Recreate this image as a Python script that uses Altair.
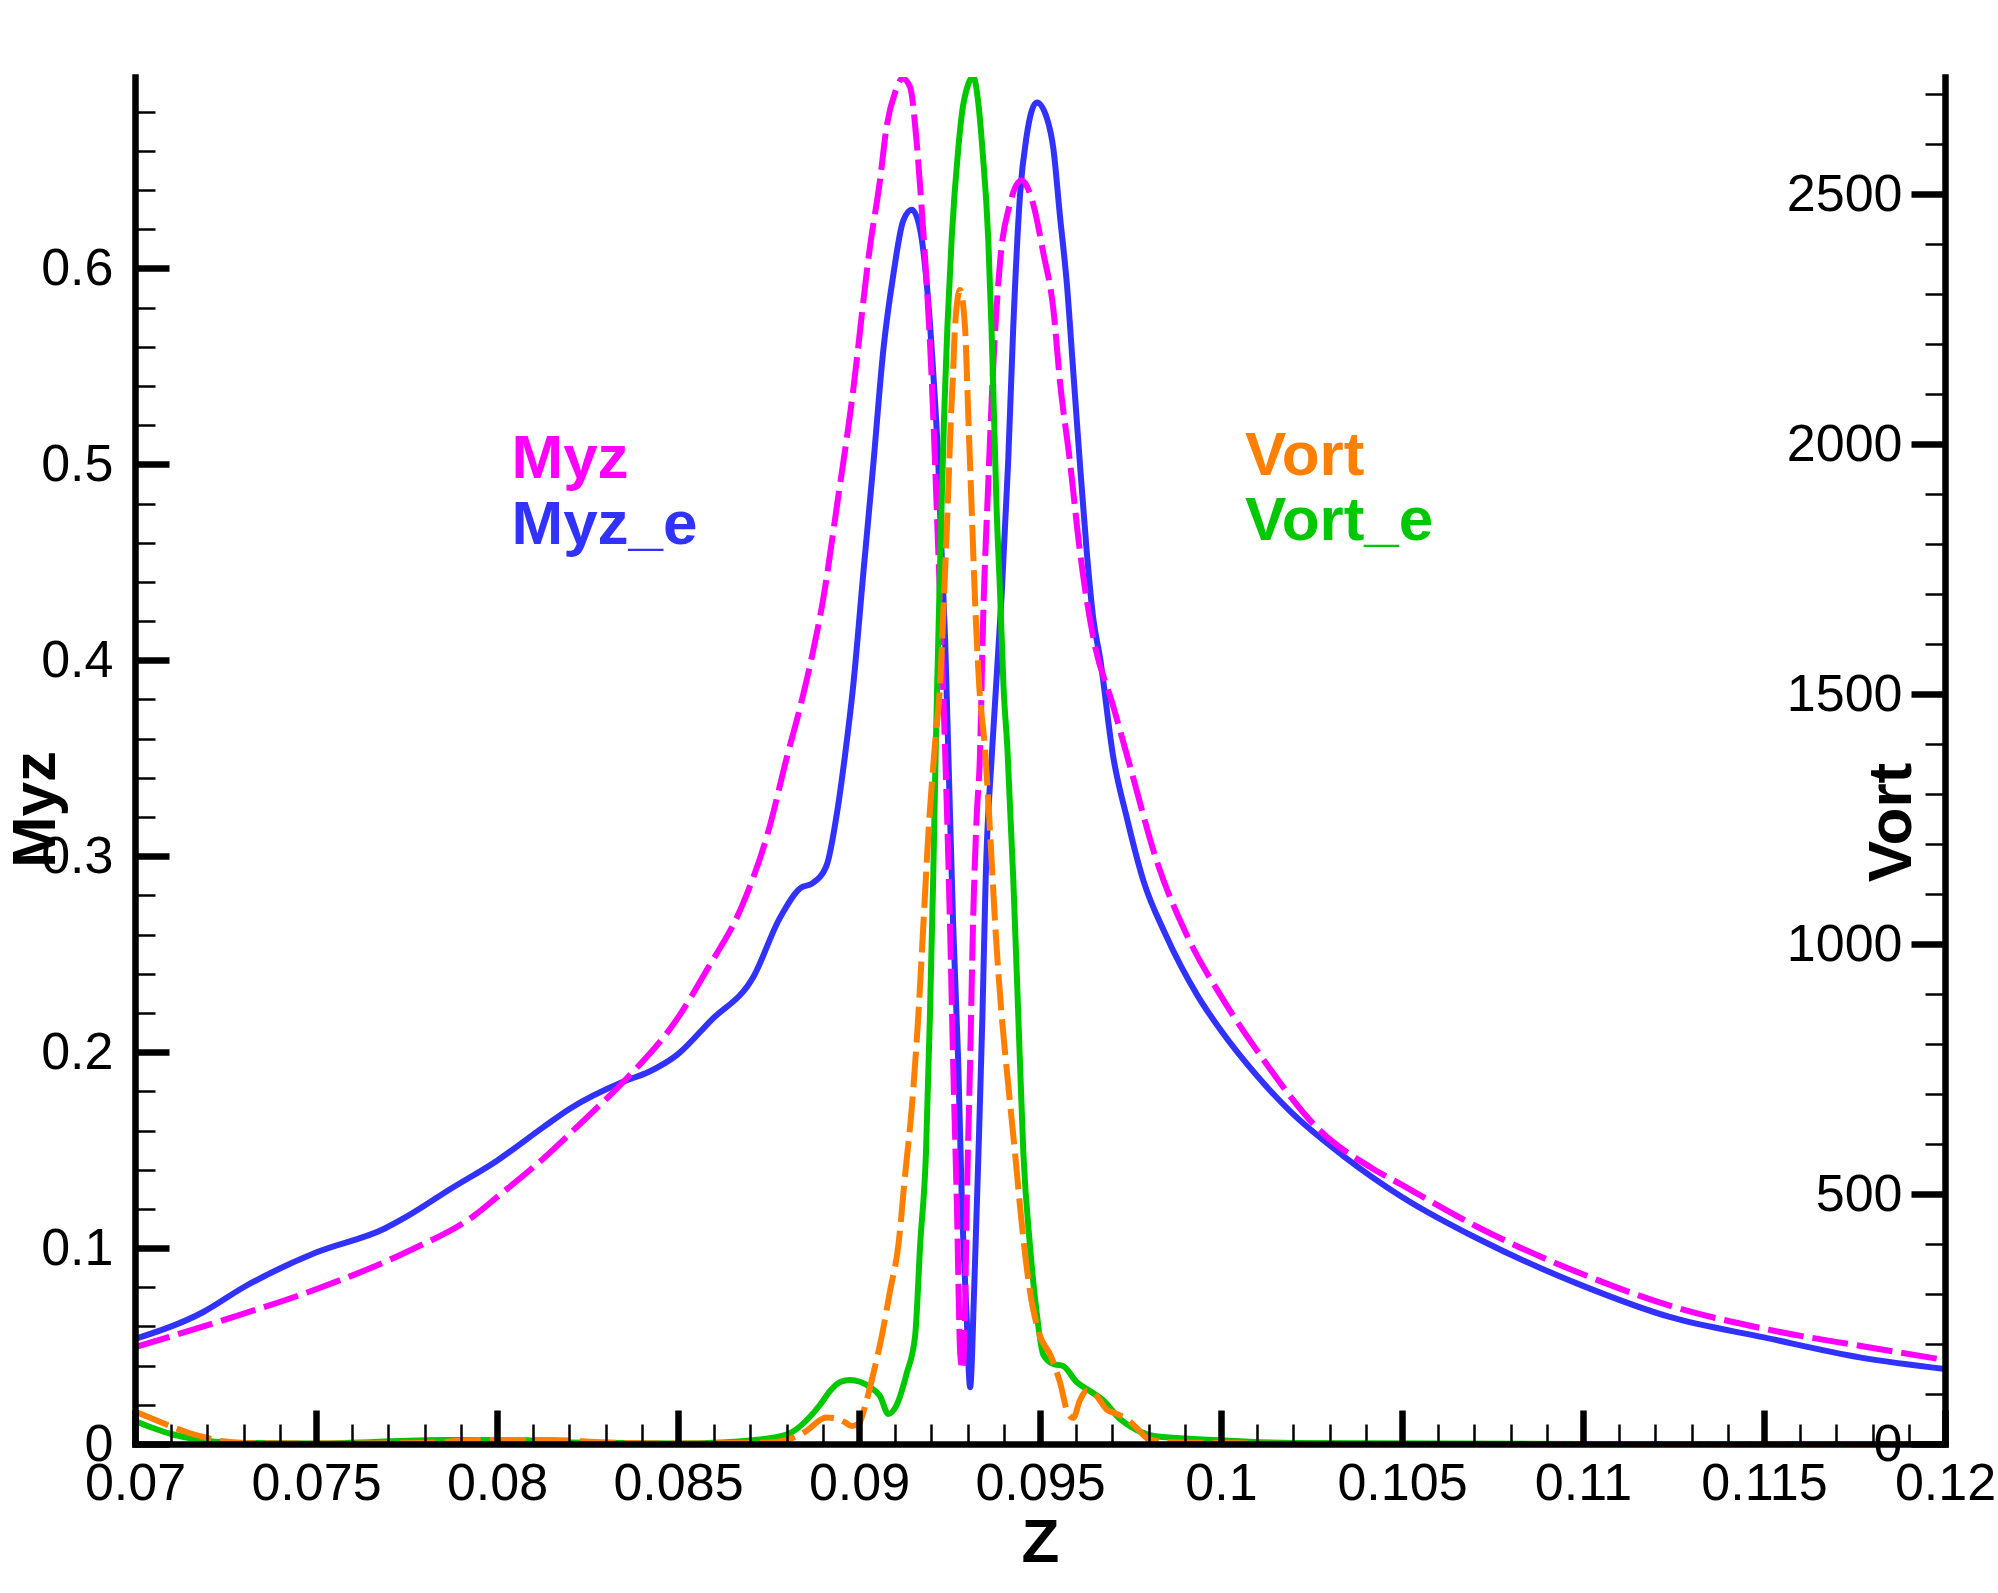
import altair as alt
import pandas as pd

# ---------------- data ----------------
# Myz (magenta, dashed, left axis)
myz_z = [0.0700, 0.0724, 0.0750, 0.0775, 0.0794, 0.0800, 0.0813, 0.0825, 0.0835, 0.0850,
         0.0858, 0.0868, 0.0875, 0.0880, 0.0884, 0.0887, 0.0890, 0.0894, 0.0898, 0.0903, 0.09058,
         0.09076, 0.0910, 0.0912, 0.09141, 0.09159, 0.09173, 0.09187, 0.0920, 0.0921, 0.09219,
         0.09228, 0.09238, 0.09245, 0.09252, 0.0926, 0.0927, 0.0928, 0.09286, 0.09292, 0.09298,
         0.09307, 0.09315, 0.09325, 0.09334, 0.09343, 0.09357, 0.0937, 0.0939, 0.09417, 0.09449,
         0.09481, 0.09509, 0.09537, 0.09555, 0.09583, 0.0961, 0.0965, 0.0970, 0.0975, 0.0982,
         0.0991, 0.1000, 0.10116, 0.10266, 0.10416, 0.1050, 0.10717, 0.1100, 0.11242, 0.1150,
         0.11768, 0.1200]
myz_v = [0.0494, 0.063, 0.079, 0.098, 0.117, 0.126, 0.146, 0.167, 0.185, 0.2176,
         0.242, 0.276, 0.313, 0.350, 0.378, 0.402, 0.430, 0.480, 0.532, 0.6106, 0.645,
         0.672, 0.690, 0.697, 0.6926, 0.665, 0.631, 0.592, 0.547, 0.501, 0.456,
         0.410, 0.353, 0.31, 0.26, 0.1955, 0.125, 0.045, 0.038, 0.06, 0.125,
         0.1955, 0.2656, 0.32, 0.351, 0.4215, 0.490, 0.547, 0.604, 0.633, 0.645,
         0.633, 0.608, 0.579, 0.5425, 0.501, 0.456, 0.409, 0.378, 0.345, 0.299,
         0.258, 0.2286, 0.1965, 0.1613, 0.1409, 0.1322, 0.110, 0.0866, 0.0705, 0.0588,
         0.050, 0.0429]

# Myz_e (blue, solid, left axis)
myze_z = [0.0700, 0.0719, 0.0730, 0.0750, 0.0769, 0.0775, 0.0787, 0.0800, 0.0813, 0.0820,
          0.0835, 0.0842, 0.0850, 0.0859, 0.0871, 0.0878, 0.0884, 0.0887, 0.0891, 0.0894,
          0.08961, 0.08984, 0.09012, 0.0904, 0.09067, 0.09095, 0.09122, 0.09146, 0.09169, 0.09187,
          0.09205, 0.09219, 0.09228, 0.09238, 0.09247, 0.0926, 0.09274, 0.09284, 0.09297, 0.09307,
          0.09318, 0.0933, 0.09341, 0.0935, 0.09368, 0.09394, 0.09412, 0.09426, 0.09445, 0.09463,
          0.09491, 0.09519, 0.09537, 0.09555, 0.09574, 0.09592, 0.0961, 0.09629, 0.09647, 0.09666,
          0.09702, 0.0974, 0.09786, 0.09845, 0.09936, 0.1000, 0.1010, 0.1019, 0.10341, 0.1050,
          0.10717, 0.1100, 0.11242, 0.1150, 0.11768, 0.1200]
myze_v = [0.0536, 0.0675, 0.080, 0.0977, 0.110, 0.116, 0.130, 0.1446, 0.162, 0.171,
          0.185, 0.190, 0.199, 0.216, 0.239, 0.268, 0.284, 0.286, 0.295, 0.323,
          0.351, 0.387, 0.4445, 0.501, 0.558, 0.597, 0.6243, 0.630, 0.6197, 0.5925,
          0.547, 0.501, 0.4557, 0.410, 0.351, 0.2656, 0.1955, 0.125, 0.0668, 0.029,
          0.0783, 0.1485, 0.219, 0.289, 0.355, 0.433, 0.501, 0.5695, 0.638, 0.6675,
          0.6847, 0.6767, 0.661, 0.627, 0.5925, 0.547, 0.501, 0.4557, 0.4215, 0.401,
          0.351, 0.3195, 0.2873, 0.2608, 0.2286, 0.211, 0.1878, 0.170, 0.1466, 0.1261,
          0.1041, 0.0807, 0.0647, 0.0544, 0.0441, 0.0383]

# Vort (orange, dashed, right axis)
vort_z = [0.0700, 0.0705, 0.0710, 0.0715, 0.0720, 0.0725, 0.0730, 0.0750, 0.0780, 0.0795,
          0.0815, 0.0830, 0.0850, 0.0875, 0.0880, 0.0885, 0.0891, 0.0893, 0.0896, 0.0898,
          0.0900, 0.09021, 0.0904, 0.09063, 0.09086, 0.09109, 0.09127, 0.09146, 0.09164, 0.09178,
          0.09192, 0.0921, 0.09224, 0.09235, 0.09245, 0.09254, 0.0926, 0.09265, 0.09279, 0.09293,
          0.09302, 0.09311, 0.0932, 0.09332, 0.09348, 0.09362, 0.09376, 0.09394, 0.09412, 0.09431,
          0.09449, 0.09472, 0.0950, 0.09528, 0.09555, 0.09578, 0.09592, 0.0961, 0.09629, 0.09656,
          0.09684, 0.09712, 0.0974, 0.09767, 0.0980, 0.0985, 0.1000, 0.1020, 0.1100, 0.1200]
vort_w = [65, 50, 35, 22, 12, 5, 2, 1, 2, 8,
          8, 3, 1, 3, 8, 24, 53, 52, 44, 36,
          41, 87, 142, 216, 307, 399, 536, 674, 858, 1041,
          1225, 1400, 1518, 1697, 1876, 2054, 2143, 2232, 2308, 2232,
          2054, 1876, 1697, 1518, 1390, 1225, 1041, 858, 720, 582,
          445, 307, 216, 179, 124, 60, 52, 87, 106, 96,
          69, 60, 50, 32, 10, 4, 2, 0, 0, 0]

# Vort_e (green, solid, right axis)
vorte_z = [0.0700, 0.0705, 0.0710, 0.0715, 0.0720, 0.0730, 0.0750, 0.0785, 0.0805, 0.0820,
           0.0850, 0.0862, 0.0870, 0.0880, 0.08892, 0.0892, 0.08948, 0.08975, 0.0903, 0.09058,
           0.09081, 0.09104, 0.09132, 0.09155, 0.09169, 0.09185, 0.09196, 0.09205, 0.09212, 0.09216,
           0.09222, 0.09228, 0.09235, 0.09244, 0.09256, 0.09274, 0.09288, 0.09316, 0.0933, 0.09341,
           0.09357, 0.09366, 0.09373, 0.0938, 0.0939, 0.09399, 0.0941, 0.09426, 0.0944, 0.09454,
           0.09472, 0.09491, 0.09509, 0.09537, 0.09564, 0.09601, 0.09638, 0.09675, 0.09721, 0.09767,
           0.09815, 0.0998, 0.1020, 0.1100, 0.1200]
vorte_w = [46, 32, 20, 12, 6, 2, 1, 8, 8, 3,
           1, 3, 7, 19, 78, 106, 124, 128, 114, 96,
           60, 78, 142, 216, 399, 582, 858, 1133, 1390, 1518,
           1697, 1875, 2054, 2232, 2411, 2589, 2679, 2734, 2679, 2589,
           2411, 2232, 2054, 1875, 1697, 1518, 1390, 1133, 858, 582,
           399, 262, 179, 160, 156, 124, 106, 87, 50, 28,
           16, 8, 2, 0, 0]

# tick values
z_major = [0.07, 0.075, 0.08, 0.085, 0.09, 0.095, 0.1, 0.105, 0.11, 0.115, 0.12]
z_minor = [round(0.07 + 0.001 * i, 3) for i in range(51) if i % 5]
myz_major = [0, 0.1, 0.2, 0.3, 0.4, 0.5, 0.6]
myz_minor = [round(0.02 * i, 2) for i in range(35) if i % 5]
vort_major = [0, 500, 1000, 1500, 2000, 2500]
vort_minor = [100 * i for i in range(28) if i % 5]

# in-plot series labels (anchored in data units: Z, Myz)
legend_text = ["Myz", "Myz_e", "Vort", "Vort_e"]
legend_z = [0.0804, 0.0804, 0.10066, 0.10066]
legend_v = [0.493, 0.4593, 0.4945, 0.4613]

# ---------------- style ----------------
W, H = 1810, 1367
FONT = "Liberation Sans"
MAGENTA, BLUE, ORANGE, GREEN = "#FF00FF", "#3232FF", "#FF8000", "#00C800"
LW = 6
DASH = [36, 9]
TICK_FS = 52
TITLE_FS = 62
INTERP = "monotone"

xscale = alt.Scale(domain=[0.07, 0.12], nice=False, zero=False)
myz_scale = alt.Scale(domain=[0, 0.6977], nice=False, zero=False)
vort_scale = alt.Scale(domain=[0, 2734], nice=False, zero=False)


def ticks_only(orient, offset, values, size, width):
    return alt.Axis(orient=orient, offset=offset, values=values, ticks=True,
                    tickSize=size, tickWidth=width, tickColor="black",
                    labels=False, domain=False, grid=False, title=None, zindex=1)


common = dict(grid=False, labelFont=FONT, labelFontSize=TICK_FS, labelColor="black",
              labelFlush=False, labelOverlap=False,
              domain=True, domainColor="black", domainWidth=6.5, domainCap="square",
              titleFont=FONT, titleFontSize=TITLE_FS, titleFontWeight="bold",
              titleColor="black", titleBaseline="alphabetic", titleAlign="center", zindex=1)

x_label_axis = alt.Axis(orient="bottom", values=z_major, format="~g", ticks=False, tickSize=0,
                        labelPadding=14, labelBaseline="top", title="Z",
                        titleX=W / 2, titleY=117, titleAngle=0, **common)
myz_label_axis = alt.Axis(orient="left", values=myz_major, format="~g", ticks=False, tickSize=0,
                          labelPadding=22, labelBaseline="middle", labelAlign="right",
                          title="Myz", titleAngle=270, titleX=-81, titleY=732, **common)
vort_label_axis = alt.Axis(orient="left", offset=-W, values=vort_major, format="d", ticks=True,
                           tickSize=34, tickWidth=6.5, tickColor="black",
                           labelPadding=9, labelBaseline="middle", labelAlign="right",
                           title="Vort", titleAngle=270, titleX=-35, titleY=745, **common)


def frame(zs, ys):
    return pd.DataFrame({"z": zs, "v": ys, "i": list(range(len(zs)))})


blue = alt.Chart(frame(myze_z, myze_v)).mark_line(
    color=BLUE, strokeWidth=LW, clip=True, interpolate=INTERP).encode(
    x=alt.X("z:Q", scale=xscale, axis=x_label_axis),
    y=alt.Y("v:Q", scale=myz_scale, axis=myz_label_axis),
    order="i:Q")

mag = alt.Chart(frame(myz_z, myz_v)).mark_line(
    color=MAGENTA, strokeWidth=LW, strokeDash=DASH, clip=True, interpolate=INTERP).encode(
    x=alt.X("z:Q", scale=xscale, axis=ticks_only("top", -H, z_major, 34, 6.5)),
    y=alt.Y("v:Q", scale=myz_scale, axis=ticks_only("right", -W, myz_major, 34, 6.5)),
    order="i:Q")

green = alt.Chart(frame(vorte_z, vorte_w)).mark_line(
    color=GREEN, strokeWidth=LW, clip=True, interpolate=INTERP).encode(
    x=alt.X("z:Q", scale=xscale, axis=ticks_only("top", -H, z_minor, 20, 2.5)),
    y=alt.Y("v:Q", scale=vort_scale, axis=ticks_only("left", -W, vort_minor, 20, 2.5)),
    order="i:Q")

orange = alt.Chart(frame(vort_z, vort_w)).mark_line(
    color=ORANGE, strokeWidth=LW, strokeDash=DASH, clip=True, interpolate=INTERP).encode(
    x=alt.X("z:Q", scale=xscale, axis=None),
    y=alt.Y("v:Q", scale=vort_scale, axis=vort_label_axis),
    order="i:Q")

lab_df = pd.DataFrame({"t": legend_text, "z": legend_z, "v": legend_v})
labels = alt.Chart(lab_df).mark_text(
    font=FONT, fontSize=62, fontWeight="bold", align="left", baseline="alphabetic").encode(
    x=alt.X("z:Q", scale=xscale, axis=None),
    y=alt.Y("v:Q", scale=myz_scale, axis=ticks_only("right", -W, myz_minor, 20, 2.5)),
    text="t:N",
    color=alt.Color("t:N", scale=alt.Scale(domain=legend_text,
                                           range=[MAGENTA, BLUE, ORANGE, GREEN]),
                    legend=None))

chart = alt.layer(blue, mag, green, orange, labels).resolve_scale(
    x="independent", y="independent").properties(
    width=W, height=H,
    autosize=alt.AutoSizeParams(type="none"),
    padding={"left": 135, "top": 77, "right": 53, "bottom": 149},
    background="white",
).configure_view(stroke=None)

chart.save("out.html", embed_options={"renderer": "svg", "actions": False})
